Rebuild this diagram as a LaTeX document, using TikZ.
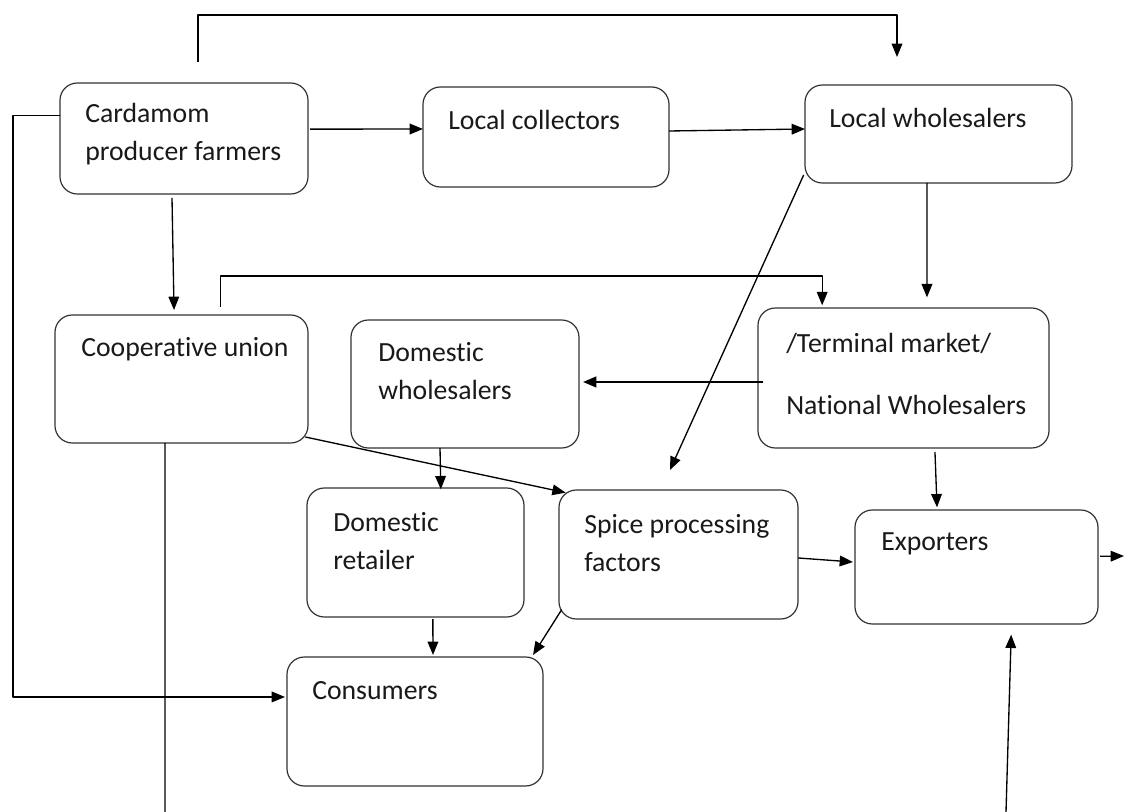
\documentclass[tikz,border=0pt]{standalone}
\usepackage{fontspec}
\setmainfont{Carlito}[Ligatures=CommonOff]
\usetikzlibrary{arrows.meta}
\begin{document}
\begin{tikzpicture}[x=0.75pt,y=-0.75pt,>={Triangle[length=10pt,width=8pt]}, line join=round,
	box/.style={draw=black!80, line width=0.9pt, rounded corners=13pt, inner sep=0pt, outer sep=0pt},
	txt/.style={anchor=west, inner sep=0pt, align=left, text=black!90, font=\fontsize{20.8}{28.5}\selectfont},
	conn/.style={->, line width=1pt},
	plain/.style={line width=1pt}]
	\useasboundingbox (0,0) rectangle (1125,812);
	% boxes
	\node[box, minimum width=186pt, minimum height=83.25pt] (farmers) at (184,138.5) {};
	\node[box, minimum width=184.5pt, minimum height=75pt] (collectors) at (546,137) {};
	\node[box, minimum width=200.25pt, minimum height=73.5pt] (localws) at (938.5,134) {};
	\node[box, minimum width=189.75pt, minimum height=96pt] (coop) at (181.5,379) {};
	\node[box, minimum width=171pt, minimum height=96pt] (domws) at (465,384) {};
	\node[box, minimum width=218.25pt, minimum height=105pt] (terminal) at (903.5,378) {};
	\node[box, minimum width=162.75pt, minimum height=96.75pt] (retailer) at (415.5,552.5) {};
	\node[box, minimum width=179.25pt, minimum height=96.75pt] (spice) at (678.5,554.5) {};
	\node[box, minimum width=182.25pt, minimum height=85.5pt] (exporters) at (976.5,567) {};
	\node[box, minimum width=192pt, minimum height=96.75pt] (consumers) at (415,721.5) {};
	% texts
	\node[txt] (farmers-t) at (85,134) {Cardamom\\producer farmers};
	\node[txt] (collectors-t) at (448,120) {Local collectors};
	\node[txt] (localws-t) at (829,118) {Local wholesalers};
	\node[txt] (coop-t) at (81,349) {Cooperative union};
	\node[txt] (domws-t) at (378,371) {Domestic\\wholesalers};
	\node[txt] (terminal-t) at (786,374) {/Terminal market/\\[18pt]National Wholesalers};
	\node[txt] (retailer-t) at (333,541) {Domestic\\retailer};
	\node[txt] (spice-t) at (584,543) {Spice processing\\factors};
	\node[txt] (exporters-t) at (881,544) {Exporters};
	\node[txt] (consumers-t) at (312,691) {Consumers};
	% free ends
	\coordinate (topstart) at (198,62);
	\coordinate (topend) at (897,57);
	\coordinate (coopout) at (165,812);
	\coordinate (exportout) at (1124,556);
	\coordinate (exportin) at (1006,812);
	% connectors
	\draw[conn] (topstart) -- ++(0,-47) -| (topend);
	\draw[conn] ([xshift=1.5pt,yshift=7pt]farmers.east) -- ([yshift=6pt]collectors.west);
	\draw[conn] ([yshift=4.5pt]collectors.east) -- ([yshift=3.75pt]localws.west);
	\draw[conn] ([xshift=-9pt,yshift=-3pt]farmers.south) -- ([xshift=-5.6pt,yshift=3.75pt]coop.north);
	\draw[conn] ([yshift=17pt]farmers.west) -- ++(-47,0) |- ([xshift=-1.5pt,yshift=18.4pt]consumers.west);
	\draw[conn] ([xshift=29pt,yshift=6pt]coop.north) -- ++(0,-31) -| ([xshift=-61pt,yshift=2pt]terminal.north);
	\draw[conn] ([xshift=-8.6pt]localws.south) -- ([xshift=17.6pt,yshift=8pt]terminal.north);
	\draw[conn] ([xshift=-1pt,yshift=6pt]localws.south west) -- ([xshift=-6.4pt,yshift=15pt]spice.north);
	\draw[conn, line width=1.6pt] ([xshift=4pt,yshift=-3pt]terminal.west) -- ([xshift=3pt,yshift=1.5pt]domws.east);
	\draw[conn] ([xshift=-2pt,yshift=4.5pt]coop.south east) -- ([xshift=5pt,yshift=-2pt]spice.north west);
	\draw[plain] ([xshift=-12.4pt]coop.south) -- (coopout);
	\draw[conn] ([xshift=-18.75pt]domws.south) -- ([xshift=19pt,yshift=-1pt]retailer.north);
	\draw[conn] ([xshift=23.6pt,yshift=-3pt]terminal.south) -- ([xshift=-29.6pt,yshift=2pt]exporters.north);
	\draw[conn] ([yshift=-2.6pt]spice.east) -- ([xshift=-1.5pt,yshift=3.75pt]exporters.west);
	\draw[conn] ([xshift=1.5pt,yshift=8pt]exporters.east) -- (exportout);
	\draw[conn] (exportin) -- ([xshift=26pt,yshift=-8pt]exporters.south);
	\draw[conn] ([xshift=13pt,yshift=-1.5pt]retailer.south) -- ([xshift=13.5pt,yshift=1.5pt]consumers.north);
	\draw[conn] ([xshift=2pt,yshift=7pt]spice.south west) -- ([xshift=-7.5pt,yshift=1.5pt]consumers.north east);
\end{tikzpicture}
\end{document}
